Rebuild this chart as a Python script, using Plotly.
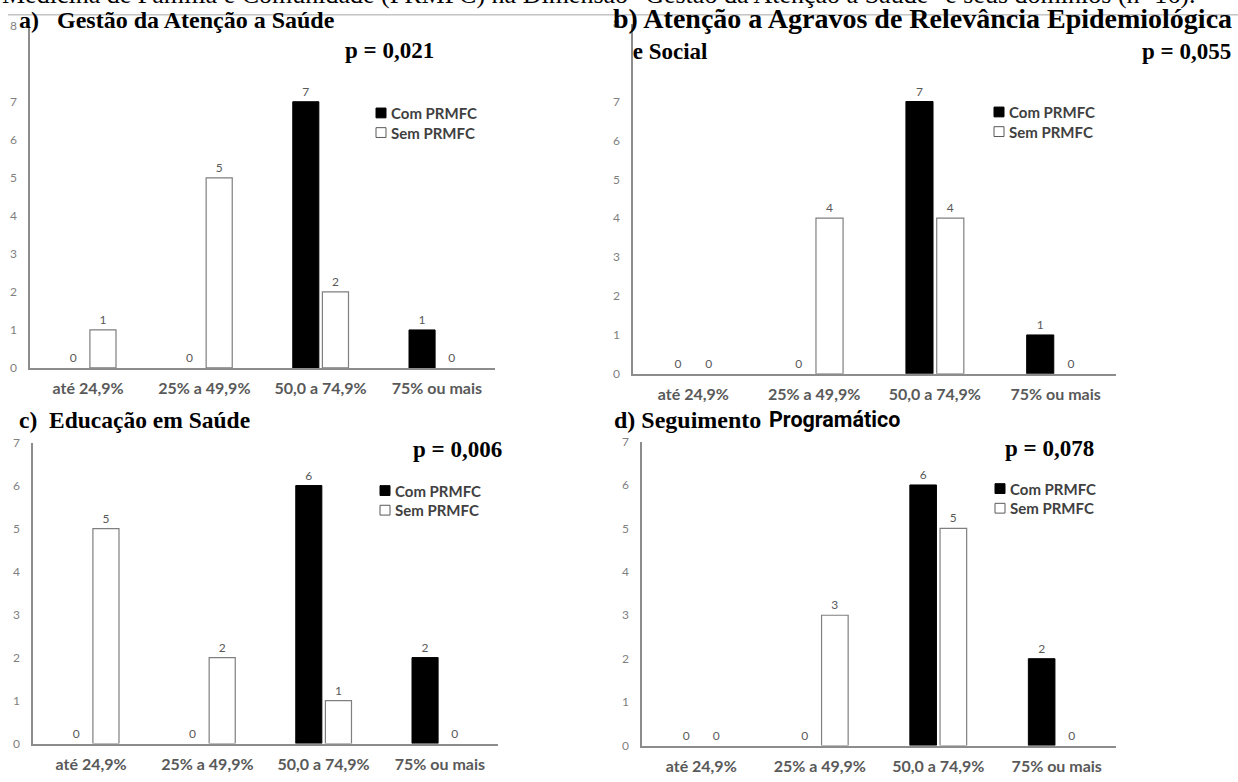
import plotly.graph_objects as go

W, H = 1238, 782

categories = ["até 24,9%", "25% a 49,9%", "50,0 a 74,9%", "75% ou mais"]

a_com = [0, 0, 7, 1]
a_sem = [1, 5, 2, 0]
b_com = [0, 0, 7, 1]
b_sem = [0, 4, 4, 0]
c_com = [0, 0, 6, 2]
c_sem = [5, 2, 1, 0]
d_com = [0, 0, 6, 2]
d_sem = [0, 3, 5, 0]

series_names = ["Com PRMFC", "Sem PRMFC"]
p_values = ["p = 0,021", "p = 0,055", "p = 0,006", "p = 0,078"]

ytick_vals_top = [0, 1, 2, 3, 4, 5, 6, 7, 9]
ytick_text_top = ["0", "1", "2", "3", "4", "5", "6", "7", "8"]
ytick_vals_bot = [0, 1, 2, 3, 4, 5, 6, 7]


def px_x(v):
    return v / W


def px_y(v):
    return 1 - v / H


panels = [
    # (com, sem, x0, x1, ybase, ytop, ymax, ticks)
    (a_com, a_sem, 30, 495, 367, 18, 9, "top"),
    (b_com, b_sem, 633, 1116, 373, 16, 9, "top"),
    (c_com, c_sem, 33, 498, 750, 443, 7, "bot"),
    (d_com, d_sem, 642, 1116, 752, 442, 7, "bot"),
]

TXT = "#595959"
fig = go.Figure()
layout_axes = {}

for i, (com, sem, x0, x1, yb, yt, ymax, tk) in enumerate(panels):
    n = "" if i == 0 else str(i + 1)
    fig.add_trace(go.Bar(
        x=categories, y=com, name=series_names[0],
        marker=dict(color="black",
                    line=dict(color="black", width=[0 if v == 0 else 1 for v in com])),
        text=[str(v) for v in com], textposition="outside",
        textfont=dict(family="Lato", size=12, color=TXT),
        cliponaxis=False, xaxis="x" + n, yaxis="y" + n, showlegend=False,
    ))
    fig.add_trace(go.Bar(
        x=categories, y=sem, name=series_names[1],
        marker=dict(color="white",
                    line=dict(color="#7f7f7f", width=[0 if v == 0 else 1.2 for v in sem])),
        text=[str(v) for v in sem], textposition="outside",
        textfont=dict(family="Lato", size=12, color=TXT),
        cliponaxis=False, xaxis="x" + n, yaxis="y" + n, showlegend=False,
    ))
    layout_axes["xaxis" + n] = dict(
        domain=[px_x(x0), px_x(x1)], anchor="y" + n,
        showline=True, linecolor="#8c8c8c", linewidth=1.5,
        showgrid=False, ticks="", zeroline=False,
        tickfont=dict(family="Lato", size=16, color=TXT),
        tickprefix="<b>", ticksuffix="</b>", ticklabelstandoff=5,
    )
    yax = dict(
        domain=[px_y(yb), px_y(yt)], anchor="x" + n,
        range=[0, ymax], showline=True, linecolor="#8c8c8c", linewidth=1.5,
        showgrid=False, zeroline=False, ticks="",
        tickfont=dict(family="Lato", size=12, color="#7f7f7f"),
        ticklabelstandoff=9,
    )
    if tk == "top":
        yax.update(tickmode="array", tickvals=ytick_vals_top, ticktext=ytick_text_top)
    else:
        yax.update(tickmode="array", tickvals=ytick_vals_bot)
    layout_axes["yaxis" + n] = yax

serif = "Liberation Serif, Times New Roman, serif"
NB = "\u00a0"


def ann(text, x, y, size, family=serif, xanchor="left", color="black"):
    return dict(text=text, x=px_x(x), y=px_y(y), xref="paper", yref="paper",
                xanchor=xanchor, yanchor="middle", showarrow=False,
                font=dict(family=family, size=size, color=color))


annotations = [
    ann('Medicina de Família e Comunidade (PRMFC) na Dimensão "Gestão da Atenção à Saúde" e seus domínios (n=16).',
        0, -14, 26),
    ann("<b>a)" + NB * 3 + "Gestão da Atenção a Saúde</b>", 17, 12, 24),
    ann("<b>b) Atenção a Agravos de Relevância Epidemiológica</b>", 611, 11, 28),
    ann("<b>" + NB + "e Social</b>", 625, 44, 23),
    ann("<b>c)" + NB * 2 + "Educação em Saúde</b>", 17, 420, 23.5),
    ann("<b>d) Seguimento</b>", 612, 420, 24),
    ann("<b>Programático</b>", 767, 420, 21.5, family="Roboto, sans-serif"),
    ann("<b>" + p_values[0] + "</b>", 436, 43, 23, xanchor="right"),
    ann("<b>" + p_values[1] + "</b>", 1233, 44, 23, xanchor="right"),
    ann("<b>" + p_values[2] + "</b>", 504, 450, 23, xanchor="right"),
    ann("<b>" + p_values[3] + "</b>", 1096, 449, 23, xanchor="right"),
]

shapes = [dict(type="line", xref="paper", yref="paper", x0=px_x(8), x1=1, y0=px_y(7), y1=px_y(7),
               line=dict(color="#a6a6a6", width=1))]

# legend keys (square + label) for each panel
legend_pos = [(376, 107), (994, 106), (380, 492), (995, 490)]
for (lx, ly) in legend_pos:
    for k, name in enumerate(series_names):
        yy = ly + 20 * k
        if k == 0:
            shapes.append(dict(type="rect", xref="paper", yref="paper",
                               x0=px_x(lx), x1=px_x(lx + 10), y0=px_y(yy + 5), y1=px_y(yy - 5),
                               fillcolor="black", line=dict(color="black", width=1)))
        else:
            shapes.append(dict(type="rect", xref="paper", yref="paper",
                               x0=px_x(lx), x1=px_x(lx + 10), y0=px_y(yy + 5), y1=px_y(yy - 5),
                               fillcolor="white", line=dict(color="#595959", width=1)))
        annotations.append(ann("<b>" + name + "</b>", lx + 13, yy, 15, family="Lato", color="#404040"))

fig.update_layout(
    width=W, height=H, margin=dict(l=0, r=0, t=0, b=0),
    paper_bgcolor="white", plot_bgcolor="white",
    barmode="group", bargap=0.49, bargroupgap=0.12,
    annotations=annotations, shapes=shapes, showlegend=False,
    **layout_axes,
)

fig.write_html("out.html")
